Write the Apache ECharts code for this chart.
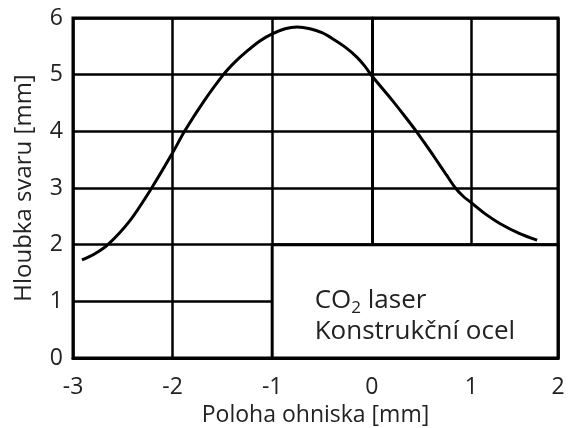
<!DOCTYPE html>
<html lang="cs">
<head>
  <meta charset="UTF-8" />
  <title>Hloubka svaru</title>
  <script src="https://cdn.jsdelivr.net/npm/echarts@6.0.0/dist/echarts.min.js"></script>
  <style>
    html, body { margin: 0; padding: 0; background: #fff; }
    #chart { width: 569px; height: 428px; }
  </style>
</head>
<body>
  <div id="chart"></div>
  <script>
    // focus position [mm] and weld depth [mm]
    var focusPos = [-2.91, -2.78, -2.65, -2.43, -2.21, -2.0, -1.88, -1.69, -1.49, -1.37, -1.25, -1.12, -1.0,
                    -0.87, -0.75, -0.62, -0.5, -0.39, -0.27, -0.15, -0.07, 0.0, 0.2, 0.33, 0.46, 0.56,
                    0.65, 0.75, 0.84, 0.92, 1.0, 1.15, 1.29, 1.48, 1.66];
    var weldDepth = [1.73, 1.84, 2.0, 2.42, 3.0, 3.62, 4.0, 4.52, 5.0, 5.23, 5.42, 5.6, 5.72,
                     5.81, 5.84, 5.81, 5.74, 5.63, 5.49, 5.31, 5.15, 4.98, 4.56, 4.27, 3.97, 3.72,
                     3.49, 3.23, 3.0, 2.85, 2.74, 2.53, 2.37, 2.2, 2.08];

    var xMin = -3, xMax = 1.87;   // right edge of the frame sits short of 2 in the original
    var yMin = 0, yMax = 6;
    var boxFrom = [-1, 0], boxTo = [xMax, 2];
    var noteLines = ['CO', '2', ' laser', 'Konstrukční ocel'];

    var textColor = '#222';
    var font = 'Open Sans';

    var chart = echarts.init(document.getElementById('chart'));

    var points = focusPos.map(function (x, i) { return [x, weldDepth[i]]; });

    chart.setOption({
      animation: false,
      textStyle: { fontFamily: font },
      grid: {
        left: 73, right: 11, top: 18, bottom: 70,
        outerBoundsMode: 'none',
        containLabel: false,
        show: true, borderColor: '#000', borderWidth: 3
      },
      xAxis: {
        type: 'value',
        min: xMin, max: xMax, interval: 1,
        name: 'Poloha ohniska [mm]',
        nameLocation: 'middle',
        nameGap: 46,
        nameTextStyle: { fontSize: 23, color: textColor },
        axisLine: { show: true, lineStyle: { color: '#000', width: 3 } },
        axisTick: { show: false },
        axisLabel: {
          fontSize: 23, color: textColor, margin: 18,
          formatter: function (v) { return String(Math.round(v)); }
        },
        splitLine: { show: true, lineStyle: { color: '#000', width: 2.5 } }
      },
      yAxis: {
        type: 'value',
        min: yMin, max: yMax, interval: 1,
        name: 'Hloubka svaru [mm]',
        nameLocation: 'middle',
        nameGap: 37,
        nameTextStyle: { fontSize: 24, color: textColor },
        axisLine: { show: true, lineStyle: { color: '#000', width: 3 } },
        axisTick: { show: false },
        axisLabel: { fontSize: 23, color: textColor, margin: 10 },
        splitLine: { show: true, lineStyle: { color: '#000', width: 2.5 } }
      },
      series: [{
        type: 'line',
        data: points,
        smooth: 0.3,
        symbol: 'none',
        lineStyle: { color: '#000', width: 3 },
        z: 5,
        markArea: {
          silent: true,
          itemStyle: { color: '#fff', borderColor: '#000', borderWidth: 3 },
          label: {
            show: true,
            position: [44, 42],
            align: 'left',
            verticalAlign: 'top',
            formatter: '{a|' + noteLines[0] + '}{s|' + noteLines[1] + '}{a|' + noteLines[2] + '}\n{a|' + noteLines[3] + '}',
            rich: {
              a: { fontSize: 26, lineHeight: 31, color: textColor, fontFamily: font },
              s: { fontSize: 17, lineHeight: 31, color: textColor, fontFamily: font, verticalAlign: 'bottom' }
            }
          },
          data: [[{ coord: boxFrom }, { coord: boxTo }]]
        }
      }]
    });
  </script>
</body>
</html>
